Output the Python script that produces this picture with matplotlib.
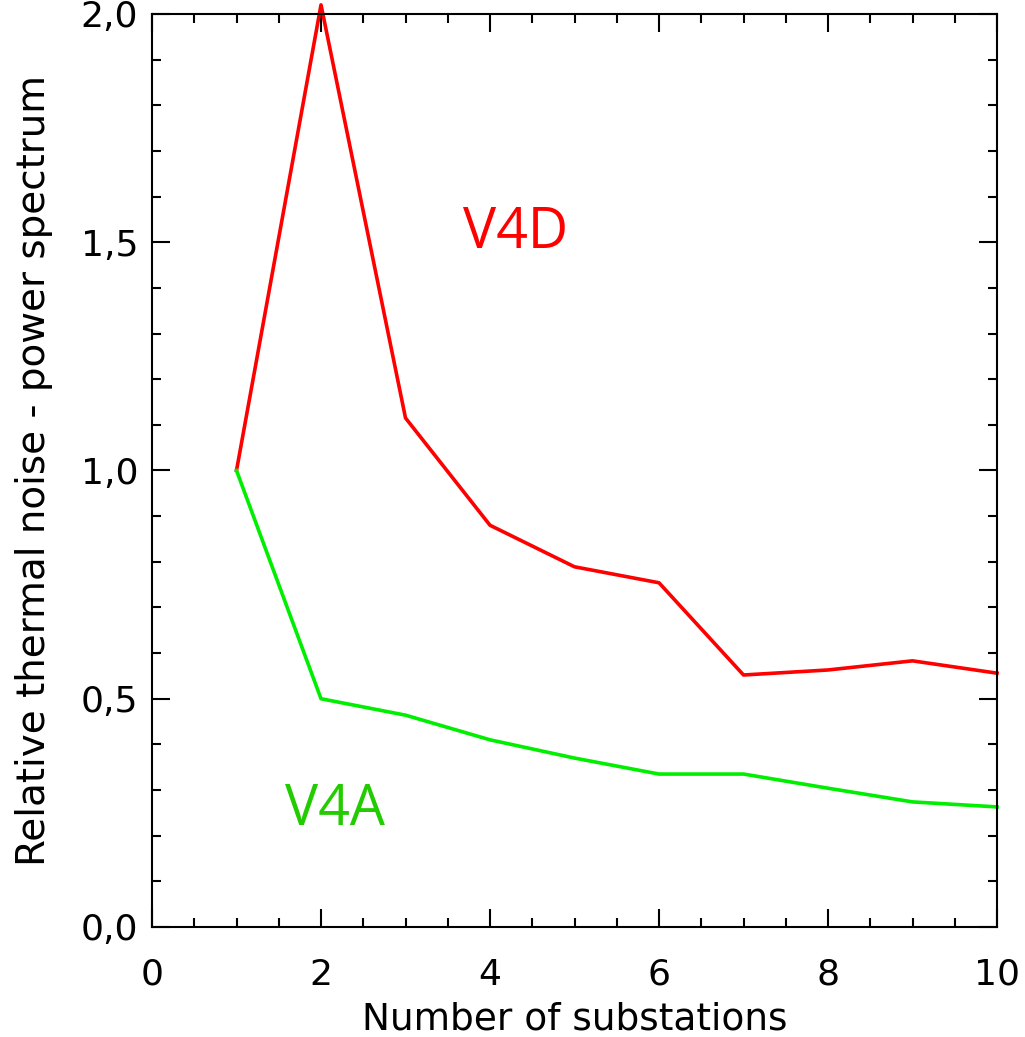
import matplotlib.pyplot as plt
from matplotlib.ticker import MultipleLocator, FuncFormatter

# number of substations
stations = [1, 2, 3, 4, 5, 6, 7, 8, 9, 10]
# relative thermal noise, V4D (red) and V4A (green)
v4d = [1.0, 2.02, 1.115, 0.88, 0.789, 0.754, 0.552, 0.563, 0.583, 0.556]
v4a = [1.0, 0.5, 0.464, 0.41, 0.37, 0.335, 0.335, 0.304, 0.274, 0.263]

plt.rcParams['font.family'] = ['DejaVu Sans']

fig = plt.figure(figsize=(10.25, 10.37), dpi=100)
ax = fig.add_axes([0.1483, 0.1061, 0.8244, 0.8804])

ax.plot(stations, v4d, color='#ff0000', lw=2.6, clip_on=False)
ax.plot(stations, v4a, color='#00ee00', lw=2.6, clip_on=False)

ax.text(4.3, 1.52, 'V4D', color='#ff0000', fontsize=40, family='Open Sans',
        ha='center', va='center')
ax.text(2.17, 0.256, 'V4A', color='#22cc00', fontsize=40, family='Open Sans',
        ha='center', va='center')

ax.set_xlim(0, 10)
ax.set_ylim(0, 2.0)
ax.xaxis.set_major_locator(MultipleLocator(2))
ax.xaxis.set_minor_locator(MultipleLocator(0.5))
ax.yaxis.set_major_locator(MultipleLocator(0.5))
ax.yaxis.set_minor_locator(MultipleLocator(0.1))
ax.xaxis.set_major_formatter(FuncFormatter(lambda v, p: '%d' % v))
ax.yaxis.set_major_formatter(FuncFormatter(lambda v, p: ('%.1f' % v).replace('.', ',')))

ax.tick_params(which='both', direction='in', top=True, right=True, width=1.5,
               labelsize=26, colors='black')
ax.tick_params(which='major', length=13)
ax.tick_params(which='minor', length=6.5)
ax.tick_params(axis='x', which='major', pad=22)
ax.tick_params(axis='y', which='major', pad=10)
for s in ax.spines.values():
    s.set_linewidth(1.5)

ax.set_xlabel('Number of substations', fontsize=27, labelpad=7)
ax.set_ylabel('Relative thermal noise - power spectrum', fontsize=28, labelpad=20)

fig.savefig('out.png', dpi=100)
